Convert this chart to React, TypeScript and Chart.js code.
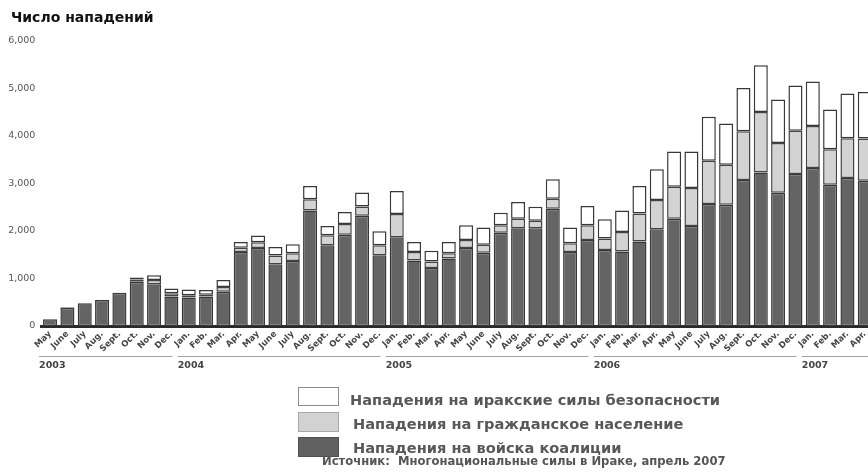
import React, { useEffect, useRef } from "react";
import { Chart, registerables } from "chart.js";

Chart.register(...registerables);

const months = [
  "May", "June", "July", "Aug.", "Sept.", "Oct.", "Nov.", "Dec.",
  "Jan.", "Feb.", "Mar.", "Apr.", "May", "June", "July", "Aug.", "Sept.", "Oct.", "Nov.", "Dec.",
  "Jan.", "Feb.", "Mar.", "Apr.", "May", "June", "July", "Aug.", "Sept.", "Oct.", "Nov.", "Dec.",
  "Jan.", "Feb.", "Mar.", "Apr.", "May", "June", "July", "Aug.", "Sept.", "Oct.", "Nov.", "Dec.",
  "Jan.", "Feb.", "Mar.", "Apr.",
];

const coalition = [
  140, 380, 480, 550, 700, 930, 880, 620,
  600, 620, 720, 1560, 1640, 1300, 1370, 2430, 1700, 1920, 2320, 1490,
  1870, 1380, 1220, 1420, 1640, 1540, 1965, 2060, 2060, 2470, 1560, 1810,
  1600, 1570, 1780, 2035, 2260, 2105, 2570, 2555, 3075, 3230, 2805, 3200,
  3325, 2975, 3115, 3060,
];

const civilians = [
  0, 10, 0, 0, 0, 50, 90, 70,
  45, 40, 100, 85, 125, 185, 160, 240, 210, 225, 195, 210,
  490, 180, 140, 110, 170, 170, 155, 200, 155, 210, 180, 310,
  240, 410, 590, 620, 670, 800, 910, 840, 1025, 1275, 1050, 910,
  885, 745, 840, 885,
];

const securityForces = [
  0, 10, 0, 0, 0, 40, 100, 100,
  125, 100, 150, 125, 140, 180, 190, 280, 195, 255, 295, 295,
  480, 210, 225, 240, 310, 365, 265, 350, 295, 410, 335, 405,
  410, 450, 575, 645, 745, 770, 925, 870, 910, 985, 915, 955,
  940, 840, 940, 980,
];

const yearLabels = ["2003", "2004", "2005", "2006", "2007"];
const yearFirstIndex = [0, 8, 20, 32, 44];
const yearLastIndex = [7, 19, 31, 43, 47];

const seriesNames = [
  "Нападения на иракские силы безопасности",
  "Нападения на гражданское население",
  "Нападения на войска коалиции",
];
const titleText = "Число нападений";
const sourceText = "Источник:  Многонациональные силы в Ираке, апрель 2007";

const FONT = '"DejaVu Sans", "Noto Sans", sans-serif';

const yearPlugin = {
  id: "yearGroups",
  afterDraw(chart: any) {
    const ctx = chart.ctx;
    const xs = chart.scales.x;
    ctx.save();
    yearLabels.forEach((yr, i) => {
      const x0 = xs.getPixelForValue(yearFirstIndex[i]) - 11;
      const x1 =
        i === yearLabels.length - 1
          ? chart.width
          : xs.getPixelForValue(yearLastIndex[i]) + 1;
      ctx.strokeStyle = "#a0a0a0";
      ctx.lineWidth = 1;
      ctx.beginPath();
      ctx.moveTo(x0, 356.5);
      ctx.lineTo(x1, 356.5);
      ctx.stroke();
      ctx.fillStyle = "#444";
      ctx.font = `bold 9.5px ${FONT}`;
      ctx.textBaseline = "middle";
      ctx.textAlign = "left";
      ctx.fillText(yr, x0, 366);
    });
    ctx.restore();
  },
};

export default function App() {
  const canvasRef = useRef<HTMLCanvasElement | null>(null);

  useEffect(() => {
    if (!canvasRef.current) return;
    const chart = new Chart(canvasRef.current, {
      type: "bar",
      data: {
        labels: months,
        datasets: [
          {
            label: seriesNames[2],
            data: coalition,
            backgroundColor: "#646464",
            borderColor: "#383838",
            borderWidth: 1.5,
            borderSkipped: false,
          },
          {
            label: seriesNames[1],
            data: civilians,
            backgroundColor: "#d3d3d3",
            borderColor: "#444444",
            borderWidth: 1.5,
            borderSkipped: false,
          },
          {
            label: seriesNames[0],
            data: securityForces,
            backgroundColor: "#ffffff",
            borderColor: "#383838",
            borderWidth: 1.5,
            borderSkipped: false,
          },
        ],
      } as any,
      options: {
        animation: false,
        responsive: false,
        maintainAspectRatio: false,
        layout: { padding: { top: 41, left: 0, right: 0, bottom: 0 } },
        datasets: { bar: { barPercentage: 0.81, categoryPercentage: 1 } } as any,
        plugins: {
          legend: { display: false },
          tooltip: { enabled: false },
          title: { display: false },
        },
        scales: {
          x: {
            stacked: true,
            z: 1,
            grid: { display: false, drawTicks: false },
            border: { display: true, color: "#2a2a2a", width: 3 },
            ticks: {
              autoSkip: false,
              maxRotation: 45,
              minRotation: 45,
              padding: 3,
              color: "#444",
              font: { family: FONT, size: 8.5, weight: "bold" },
            },
            afterFit: (s: any) => {
              s.height = 150;
            },
          },
          y: {
            stacked: true,
            min: 0,
            max: 6000,
            grid: { display: false, drawTicks: false },
            border: { display: false },
            ticks: {
              stepSize: 1000,
              padding: 6,
              color: "#555",
              font: { family: FONT, size: 9.5 },
              callback: (v: any) => Number(v).toLocaleString("en-US"),
            },
            afterFit: (s: any) => {
              s.width = 41.4;
            },
          },
        } as any,
      },
      plugins: [yearPlugin],
    });
    return () => chart.destroy();
  }, []);

  const legendText: React.CSSProperties = {
    position: "absolute",
    font: `bold 14.6px ${FONT}`,
    lineHeight: "15px",
    color: "#585858",
    whiteSpace: "nowrap",
  };
  const box: React.CSSProperties = {
    position: "absolute",
    left: 298,
    width: 41,
    height: 20,
    boxSizing: "border-box",
  };

  return (
    <div
      style={{
        position: "fixed",
        left: 0,
        top: 0,
        width: 868,
        height: 476,
        overflow: "hidden",
        background: "#fff",
      }}
    >
      <canvas
        ref={canvasRef}
        width={875}
        height={476}
        style={{ position: "absolute", left: 0, top: 0, width: 875, height: 476, display: "block" }}
      />
      <div
        style={{
          position: "absolute",
          left: 11,
          top: 9.5,
          font: `bold 14px ${FONT}`,
          lineHeight: "14px",
          color: "#111",
          whiteSpace: "nowrap",
        }}
      >
        {titleText}
      </div>
      <div style={{ ...box, top: 387, height: 19, background: "#fff", border: "1.5px solid #8c8c8c" }} />
      <div style={{ ...box, top: 412, background: "#d2d2d2", border: "1.5px solid #a8a8a8" }} />
      <div style={{ ...box, top: 437, background: "#616161", border: "1.5px solid #505050" }} />
      <div style={{ ...legendText, left: 350, top: 391.5 }}>{seriesNames[0]}</div>
      <div style={{ ...legendText, left: 353, top: 415.5 }}>{seriesNames[1]}</div>
      <div style={{ ...legendText, left: 353, top: 440 }}>{seriesNames[2]}</div>
      <div
        style={{
          position: "absolute",
          left: 322,
          top: 455,
          font: `bold 11.6px ${FONT}`,
          lineHeight: "12px",
          color: "#555",
          whiteSpace: "pre",
        }}
      >
        {sourceText}
      </div>
    </div>
  );
}
